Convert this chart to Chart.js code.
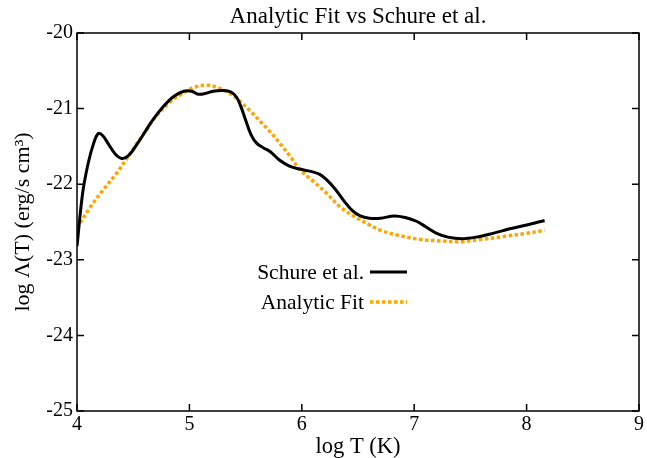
<!DOCTYPE html>
<html>
<head>
<meta charset="utf-8">
<script src="https://cdn.jsdelivr.net/npm/chart.js@4/dist/chart.umd.min.js"></script>
<style>
  html, body { margin: 0; padding: 0; background: #fff; }
  #wrap { width: 647px; height: 458px; }
</style>
</head>
<body>
<div id="wrap"><canvas id="grafico"></canvas></div>
<script>
// Schure et al. cooling curve
const schureT = [4.00, 4.05, 4.10, 4.15, 4.19, 4.23, 4.28, 4.34, 4.40, 4.46, 4.53, 4.60, 4.67, 4.77, 4.86, 4.95,
  5.02, 5.08, 5.14, 5.21, 5.30, 5.37, 5.42, 5.46, 5.50, 5.55, 5.60, 5.66, 5.72, 5.80, 5.89, 5.98,
  6.08, 6.16, 6.22, 6.30, 6.38, 6.45, 6.52, 6.60, 6.70, 6.82, 6.92, 7.02, 7.11, 7.20, 7.30, 7.42,
  7.55, 7.70, 7.85, 8.00, 8.16];
const schureL = [-22.82, -22.12, -21.72, -21.45, -21.33, -21.36, -21.47, -21.60, -21.66, -21.62, -21.48, -21.32, -21.16, -20.97, -20.84, -20.77,
  -20.77, -20.81, -20.80, -20.77, -20.76, -20.78, -20.85, -20.98, -21.15, -21.35, -21.46, -21.52, -21.57, -21.68, -21.76, -21.80,
  -21.83, -21.87, -21.94, -22.07, -22.23, -22.35, -22.42, -22.45, -22.45, -22.42, -22.44, -22.49, -22.57, -22.65, -22.70, -22.72,
  -22.70, -22.65, -22.59, -22.54, -22.48];

// Analytic fit
const fitT = [4.00, 4.12, 4.23, 4.35, 4.47, 4.59, 4.71, 4.83, 4.94, 5.04, 5.15, 5.25, 5.35, 5.44, 5.54, 5.63,
  5.72, 5.81, 5.90, 5.98, 6.10, 6.22, 6.34, 6.46, 6.58, 6.70, 6.87, 7.05, 7.23, 7.41, 7.60, 7.80, 8.00, 8.16];
const fitL = [-22.58, -22.30, -22.08, -21.86, -21.60, -21.34, -21.09, -20.91, -20.80, -20.72, -20.69, -20.72, -20.79, -20.89, -21.03, -21.17,
  -21.31, -21.47, -21.64, -21.80, -21.96, -22.12, -22.30, -22.42, -22.52, -22.61, -22.68, -22.73, -22.75, -22.76, -22.73, -22.69, -22.65, -22.61];

const xTicks = [4, 5, 6, 7, 8, 9];
const yTicks = [-25, -24, -23, -22, -21, -20];

const titulo = "Analytic Fit vs Schure et al.";
const FUENTE = "'Liberation Serif', 'DejaVu Serif', serif";

function puntos(xs, ys) {
  return xs.map((x, i) => ({ x: x, y: ys[i] }));
}

// titulo, marco, ticks hacia dentro y leyenda estilo gnuplot
const marcoPlugin = {
  id: "marco",
  afterDatasetsDraw(chart) {
    const { ctx, chartArea: a, scales } = chart;
    const largo = 7;
    ctx.save();

    ctx.fillStyle = "#000";
    ctx.font = "23px " + FUENTE;
    ctx.textAlign = "center";
    ctx.textBaseline = "middle";
    ctx.fillText(titulo, (a.left + a.right) / 2, 17);

    ctx.strokeStyle = "#000";
    ctx.lineWidth = 1.5;
    ctx.strokeRect(a.left, a.top, a.right - a.left, a.bottom - a.top);
    ctx.beginPath();
    xTicks.forEach(v => {
      const px = scales.x.getPixelForValue(v);
      ctx.moveTo(px, a.bottom); ctx.lineTo(px, a.bottom - largo);
      ctx.moveTo(px, a.top); ctx.lineTo(px, a.top + largo);
    });
    yTicks.forEach(v => {
      const py = scales.y.getPixelForValue(v);
      ctx.moveTo(a.left, py); ctx.lineTo(a.left + largo, py);
      ctx.moveTo(a.right, py); ctx.lineTo(a.right - largo, py);
    });
    ctx.stroke();

    // leyenda
    const textoX = 364, lineaX0 = 370, lineaX1 = 407;
    const filas = [272, 302];
    ctx.font = "21.5px " + FUENTE;
    ctx.textAlign = "right";
    ctx.textBaseline = "middle";
    chart.data.datasets.forEach((ds, i) => {
      const y = filas[i];
      ctx.fillStyle = "#000";
      ctx.fillText(ds.label, textoX, y + 1);
      ctx.beginPath();
      ctx.strokeStyle = ds.borderColor;
      ctx.lineWidth = ds.borderWidth;
      ctx.setLineDash(ds.borderDash || []);
      ctx.moveTo(lineaX0, y);
      ctx.lineTo(lineaX1, y);
      ctx.stroke();
      ctx.setLineDash([]);
    });
    ctx.restore();
  }
};

new Chart(document.getElementById("grafico"), {
  type: "line",
  data: {
    datasets: [
      {
        label: "Schure et al.",
        data: puntos(schureT, schureL),
        borderColor: "#000000",
        borderWidth: 3,
        pointRadius: 0,
        tension: 0.35,
        fill: false
      },
      {
        label: "Analytic Fit",
        data: puntos(fitT, fitL),
        borderColor: "#ffa500",
        borderWidth: 3.5,
        borderDash: [3.5, 2.5],
        borderCapStyle: "butt",
        pointRadius: 0,
        tension: 0.35,
        fill: false
      }
    ]
  },
  options: {
    responsive: true,
    maintainAspectRatio: false,
    animation: false,
    layout: { padding: { right: 8, left: 0, top: 33, bottom: 0 } },
    plugins: {
      legend: { display: false },
      tooltip: { enabled: false },
      title: { display: false }
    },
    scales: {
      x: {
        type: "linear",
        min: 4,
        max: 9,
        afterBuildTicks: s => { s.ticks = xTicks.map(v => ({ value: v })); },
        afterFit: s => { s.height = 47; },
        grid: { display: false, drawTicks: false },
        border: { display: false },
        ticks: {
          color: "#000",
          padding: 2,
          maxRotation: 0,
          font: { family: FUENTE, size: 20 },
          callback: v => String(v)
        },
        title: {
          display: true,
          text: "log T (K)",
          color: "#000",
          font: { family: FUENTE, size: 22.5, lineHeight: 1.0 },
          padding: { top: 0, bottom: 0 }
        }
      },
      y: {
        type: "linear",
        min: -25,
        max: -20,
        afterBuildTicks: s => { s.ticks = yTicks.map(v => ({ value: v })); },
        afterFit: s => { s.width = 77; },
        grid: { display: false, drawTicks: false },
        border: { display: false },
        ticks: {
          color: "#000",
          padding: 4,
          font: { family: FUENTE, size: 20 },
          callback: v => String(v)
        },
        title: {
          display: true,
          text: "log Λ(T) (erg/s cm³)",
          color: "#000",
          font: { family: FUENTE, size: 22, lineHeight: 1.0 },
          padding: { top: 12, bottom: 0 }
        }
      }
    }
  },
  plugins: [marcoPlugin]
});
</script>
</body>
</html>
